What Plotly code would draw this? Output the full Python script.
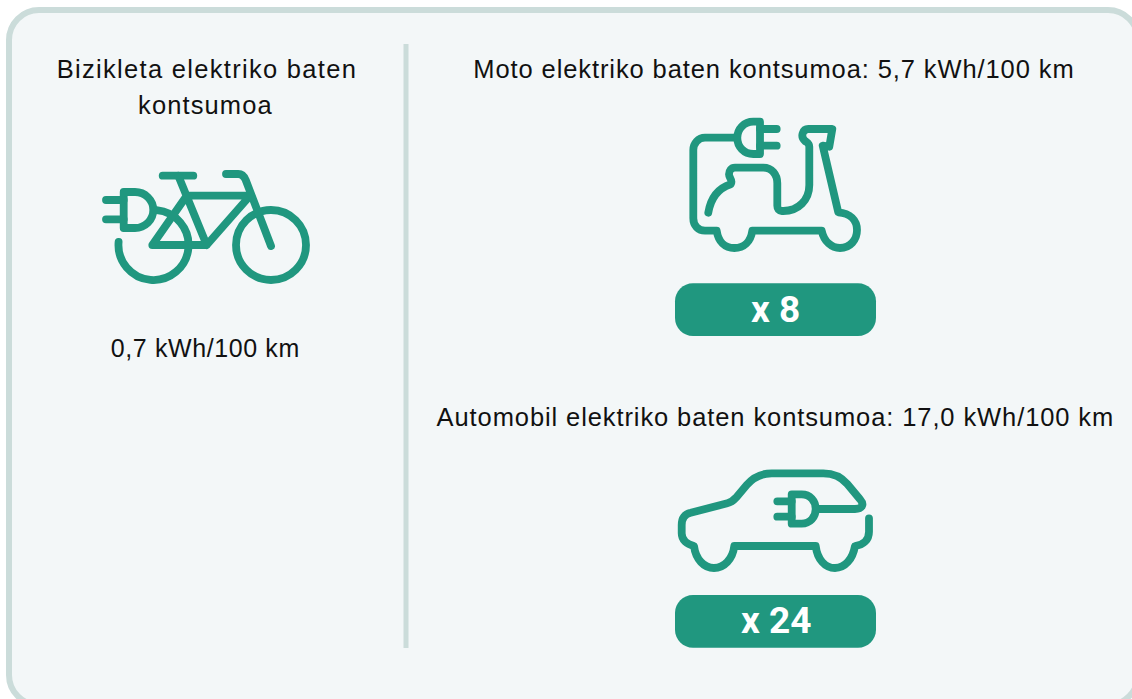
import math
import plotly.graph_objects as go

# Content
bike_title = ["Bizikleta elektriko baten", "kontsumoa"]
bike_value = "0,7 kWh/100 km"
moto_title = "Moto elektriko baten kontsumoa: 5,7 kWh/100 km"
car_title = "Automobil elektriko baten kontsumoa: 17,0 kWh/100 km"
multipliers = ["x 8", "x 24"]

GREEN = "#20977f"
PANEL = "#f3f7f8"
EDGE = "#cbdcda"
INK = "#111111"
W, H = 1132, 699
K = 0.5523


def z(ox, oy, s):
    """Convert a path written in 3x crop coordinates to page pixels."""
    out = []
    for tok in s.split():
        if "," in tok:
            a, b = tok.split(",")
            out.append(f"{ox + float(a) / 3:.1f},{oy + float(b) / 3:.1f}")
        else:
            out.append(tok)
    return " ".join(out)


def arc(cx, cy, r, a0, a1):
    """Cubic path for an arc, angles in degrees measured on the page."""
    n = max(1, math.ceil(abs(a1 - a0) / 90))
    step = math.radians(a1 - a0) / n
    t = 4 / 3 * math.tan(step / 4)
    a = math.radians(a0)
    s = f"M {cx + r * math.cos(a):.1f},{cy + r * math.sin(a):.1f}"
    for _ in range(n):
        b = a + step
        s += (f" C {cx + r * (math.cos(a) - t * math.sin(a)):.1f},{cy + r * (math.sin(a) + t * math.cos(a)):.1f}"
              f" {cx + r * (math.cos(b) + t * math.sin(b)):.1f},{cy + r * (math.sin(b) - t * math.cos(b)):.1f}"
              f" {cx + r * math.cos(b):.1f},{cy + r * math.sin(b):.1f}")
        a = b
    return s


def rrect(x0, y0, x1, y1, r):
    c = r * (1 - K)
    return (f"M {x0 + r},{y0} L {x1 - r},{y0} C {x1 - c},{y0} {x1},{y0 + c} {x1},{y0 + r} L {x1},{y1 - r} "
            f"C {x1},{y1 - c} {x1 - c},{y1} {x1 - r},{y1} L {x0 + r},{y1} C {x0 + c},{y1} {x0},{y1 - c} {x0},{y1 - r} "
            f"L {x0},{y0 + r} C {x0},{y0 + c} {x0 + c},{y0} {x0 + r},{y0} Z")


bike = [
    arc(271, 245, 35, 0, 360) + " Z",
    arc(153.5, 245, 35, 185, -85),
    z(90, 160, "M 218,47 L 310,47"),
    z(90, 160, "M 265,47 L 350,255 L 187,255 L 290,107 L 480,107 L 350,255"),
    z(90, 160, "M 408,42 L 445,42 C 458,42 463,50 467,60 L 543,258"),
    z(90, 160, "M 101,96 L 135,96 C 165,96 190,120 190,150 C 190,180 165,204 135,204 L 101,204 Z"),
    z(90, 160, "M 48,120 L 101,120 M 48,178 L 101,178"),
]
moto = [
    z(670, 115, "M 195,68 L 105,68 C 85,68 70,85 70,105 L 70,310 C 70,332 85,347 105,347 L 140,347 "
                "C 145,380 165,399 193,399 C 222,399 242,380 247,347 L 455,347 "
                "C 462,380 485,399 510,399 C 540,399 561,375 561,345 C 561,315 540,295 505,292 "
                "L 458,92 L 478,95 L 487,42 L 415,42 C 398,42 390,65 405,78 C 412,83 418,85 418,95 L 418,210 "
                "C 418,255 385,288 340,288 L 335,288 C 327,288 322,282 322,272 L 322,205 "
                "C 322,178 305,158 280,158 L 195,158 C 183,158 177,167 177,178 C 177,190 190,195 182,208 "
                "C 145,220 122,250 115,293"),
    z(670, 115, "M 270,20 L 250,20 C 222,20 202,42 202,68 C 202,95 222,117 250,117 L 270,117 Z"),
    z(670, 115, "M 270,42 L 320,42 M 270,92 L 320,92"),
]
car = [
    z(670, 460, "M 597,175 L 597,215 C 597,240 580,255 555,258 C 548,298 525,324 495,324 "
                "C 465,324 442,298 437,258 L 193,258 C 188,298 162,324 132,324 C 102,324 77,298 72,258 "
                "C 50,253 35,240 35,220 L 35,195 C 35,175 45,162 62,158 L 172,130 C 185,127 190,122 198,113 "
                "L 230,75 C 250,52 275,40 305,40 L 460,40 C 490,40 515,52 532,72 L 570,118 "
                "C 585,135 575,147 555,147 L 445,147"),
    z(670, 460, "M 365,103 L 395,103 C 420,103 437,122 437,147 C 437,172 420,191 395,191 L 365,191 Z"),
    z(670, 460, "M 322,124 L 365,124 M 322,170 L 365,170"),
]

fig = go.Figure()
shapes = [
    dict(type="path", path=rrect(9, 10, 1138, 705, 30), fillcolor=PANEL, line=dict(color=EDGE, width=6)),
    dict(type="line", x0=406, x1=406, y0=44, y1=648, line=dict(color=EDGE, width=5)),
    dict(type="path", path=rrect(675, 283.3, 876, 336, 18), fillcolor=GREEN, line=dict(width=0)),
    dict(type="path", path=rrect(675, 595, 876, 647.7, 18), fillcolor=GREEN, line=dict(width=0)),
]
for p in bike + moto + car:
    shapes.append(dict(type="path", path=p, line=dict(color=GREEN, width=7.8), fillcolor="rgba(0,0,0,0)"))


def label(x, y, text, size=25.5, color=INK, bold=False, family="Liberation Sans"):
    return dict(x=x, y=y, text=f"<b>{text}</b>" if bold else text, showarrow=False,
                xanchor="center", yanchor="middle",
                font=dict(family=family, size=size, color=color))


annotations = [
    label(206.5, 68.5, bike_title[0]),
    label(206, 104.5, bike_title[1]),
    label(205.5, 347.5, bike_value, 25),
    label(773.5, 68.5, moto_title),
    label(775.5, 416.5, car_title),
    label(775.5, 309, multipliers[0], 37, "#ffffff", True, "Roboto"),
    label(775.5, 620, multipliers[1], 37, "#ffffff", True, "Roboto"),
]

fig.update_layout(
    width=W, height=H, margin=dict(l=0, r=0, t=0, b=0),
    paper_bgcolor="#ffffff", plot_bgcolor="#ffffff",
    xaxis=dict(range=[0, W], visible=False, fixedrange=True),
    yaxis=dict(range=[H, 0], visible=False, fixedrange=True),
    shapes=shapes, annotations=annotations, showlegend=False,
)

post = """
document.documentElement.style.margin='0';
document.body.style.margin='0';
document.body.style.overflow='hidden';
document.querySelectorAll('.shapelayer path').forEach(function(p,i){
  if(i>=4){p.style.strokeLinecap='round'; p.style.strokeLinejoin='round';}
});
var sp=[1.3,1.1,0.6,0.9,0.9,0,0];
document.querySelectorAll('.annotation-text').forEach(function(t,i){
  t.style.letterSpacing=sp[i]+'px';
});
"""
fig.write_html("out.html", post_script=post, config={"displayModeBar": False},
               default_width=W, default_height=H)
